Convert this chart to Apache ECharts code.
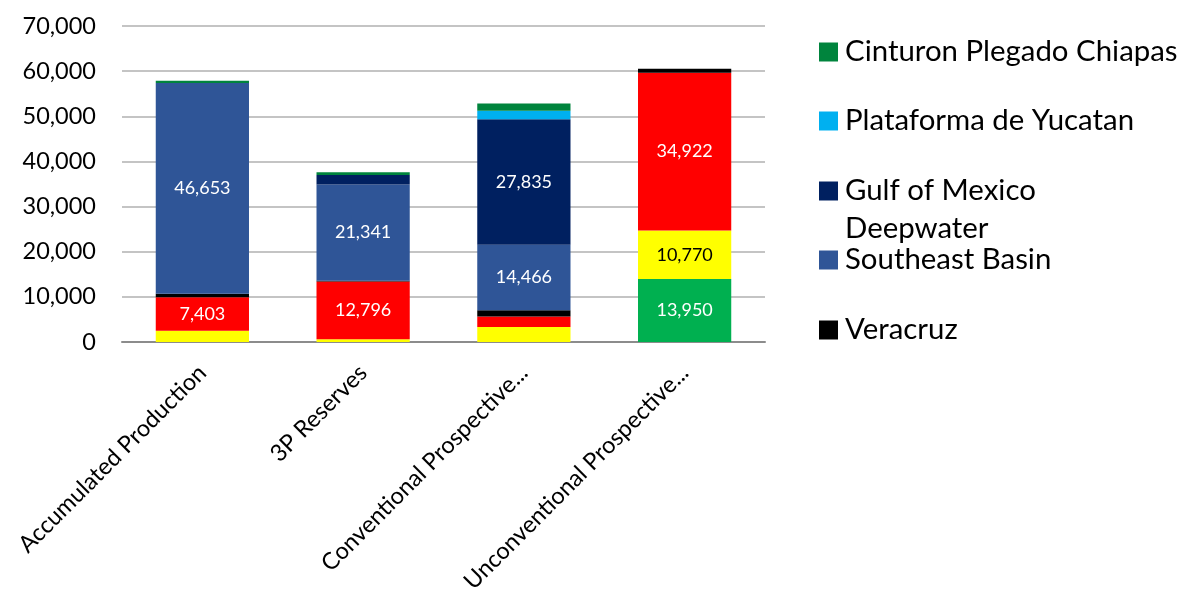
<!DOCTYPE html>
<html>
<head>
<meta charset="utf-8">
<script src="https://cdn.jsdelivr.net/npm/echarts@6/dist/echarts.min.js"></script>
<style>
html,body{margin:0;padding:0;background:#fff;}
#c{width:1180px;height:589px;}
</style>
</head>
<body>
<div id="c"></div>
<script>
const categories = ['Accumulated Production', '3P Reserves', 'Conventional Prospective...', 'Unconventional Prospective...'];
const yTicks = [0, 10000, 20000, 30000, 40000, 50000, 60000, 70000];

const sabinas   = [0, 0, 0, 13950];
const burgos    = [2500, 600, 3350, 10770];
const tampico   = [7403, 12796, 2300, 34922];
const veracruz  = [800, 150, 1400, 900];
const southeast = [46653, 21341, 14466, 0];
const deepwater = [0, 2100, 27835, 0];
const yucatan   = [0, 0, 1850, 0];
const chiapas   = [500, 600, 1620, 0];

const seriesDefs = [
  {name: 'Sabinas', data: sabinas, color: '#00B050', labelColor: '#fff'},
  {name: 'Burgos', data: burgos, color: '#FFFF00', labelColor: '#000'},
  {name: 'Tampico-Misantla', data: tampico, color: '#FF0000', labelColor: '#fff'},
  {name: 'Veracruz', data: veracruz, color: '#000000', labelColor: '#fff'},
  {name: 'Southeast Basin', data: southeast, color: '#2F5597', labelColor: '#fff'},
  {name: 'Gulf of Mexico Deepwater', data: deepwater, color: '#002060', labelColor: '#fff'},
  {name: 'Plataforma de Yucatan', data: yucatan, color: '#00B0F0', labelColor: '#fff'},
  {name: 'Cinturon Plegado Chiapas', data: chiapas, color: '#00843D', labelColor: '#fff'}
];

const FONT = 'Lato';
const fmt = v => Number(v).toLocaleString('en-US');

const series = seriesDefs.map(s => ({
  name: s.name,
  type: 'bar',
  stack: 'total',
  data: s.data,
  barWidth: '58%',
  itemStyle: {color: s.color},
  label: {
    show: true,
    position: 'inside',
    color: s.labelColor,
    fontFamily: FONT,
    fontSize: 18,
    formatter: p => (p.value >= 5000 ? fmt(p.value) : '')
  },
  emphasis: {disabled: true}
}));

const legendItems = [
  {name: 'Cinturon Plegado Chiapas', cy: 52, lines: 1},
  {name: 'Plataforma de Yucatan', cy: 121, lines: 1},
  {name: 'Gulf of Mexico Deepwater', cy: 191, lines: 3, text: ' \nGulf of Mexico\nDeepwater'},
  {name: 'Southeast Basin', cy: 260, lines: 1},
  {name: 'Veracruz', cy: 330, lines: 1}
];
const LH = 38;
const legends = legendItems.map(it => ({
  data: [it.name],
  orient: 'vertical',
  left: 819,
  top: it.cy - it.lines * LH / 2,
  padding: 0,
  itemWidth: 19,
  itemHeight: 19,
  icon: 'rect',
  selectedMode: false,
  formatter: () => it.text || it.name,
  textStyle: {
    fontFamily: FONT,
    fontSize: 29.4,
    color: '#000',
    lineHeight: LH,
    padding: [0, 0, 0, 2]
  }
}));

const chart = echarts.init(document.getElementById('c'), null, {renderer: 'canvas'});
chart.setOption({
  animation: false,
  backgroundColor: '#fff',
  legend: legends,
  grid: {left: 122, right: 415, top: 26, bottom: 247, containLabel: false, outerBoundsMode: 'none'},
  xAxis: {
    type: 'category',
    data: categories,
    axisTick: {show: false},
    axisLine: {lineStyle: {color: '#8C8C8C', width: 2}},
    axisLabel: {
      interval: 0,
      rotate: 45,
      margin: 27,
      fontFamily: FONT,
      fontSize: 23.5,
      color: '#000'
    }
  },
  yAxis: {
    type: 'value',
    min: yTicks[0],
    max: yTicks[yTicks.length - 1],
    interval: yTicks[1] - yTicks[0],
    axisLine: {show: false},
    axisTick: {show: false},
    axisLabel: {
      margin: 26,
      fontFamily: FONT,
      fontSize: 23.5,
      color: '#000',
      formatter: v => fmt(v)
    },
    splitLine: {lineStyle: {color: '#B0B0B0', width: 1.5}}
  },
  series: series
});
</script>
</body>
</html>
